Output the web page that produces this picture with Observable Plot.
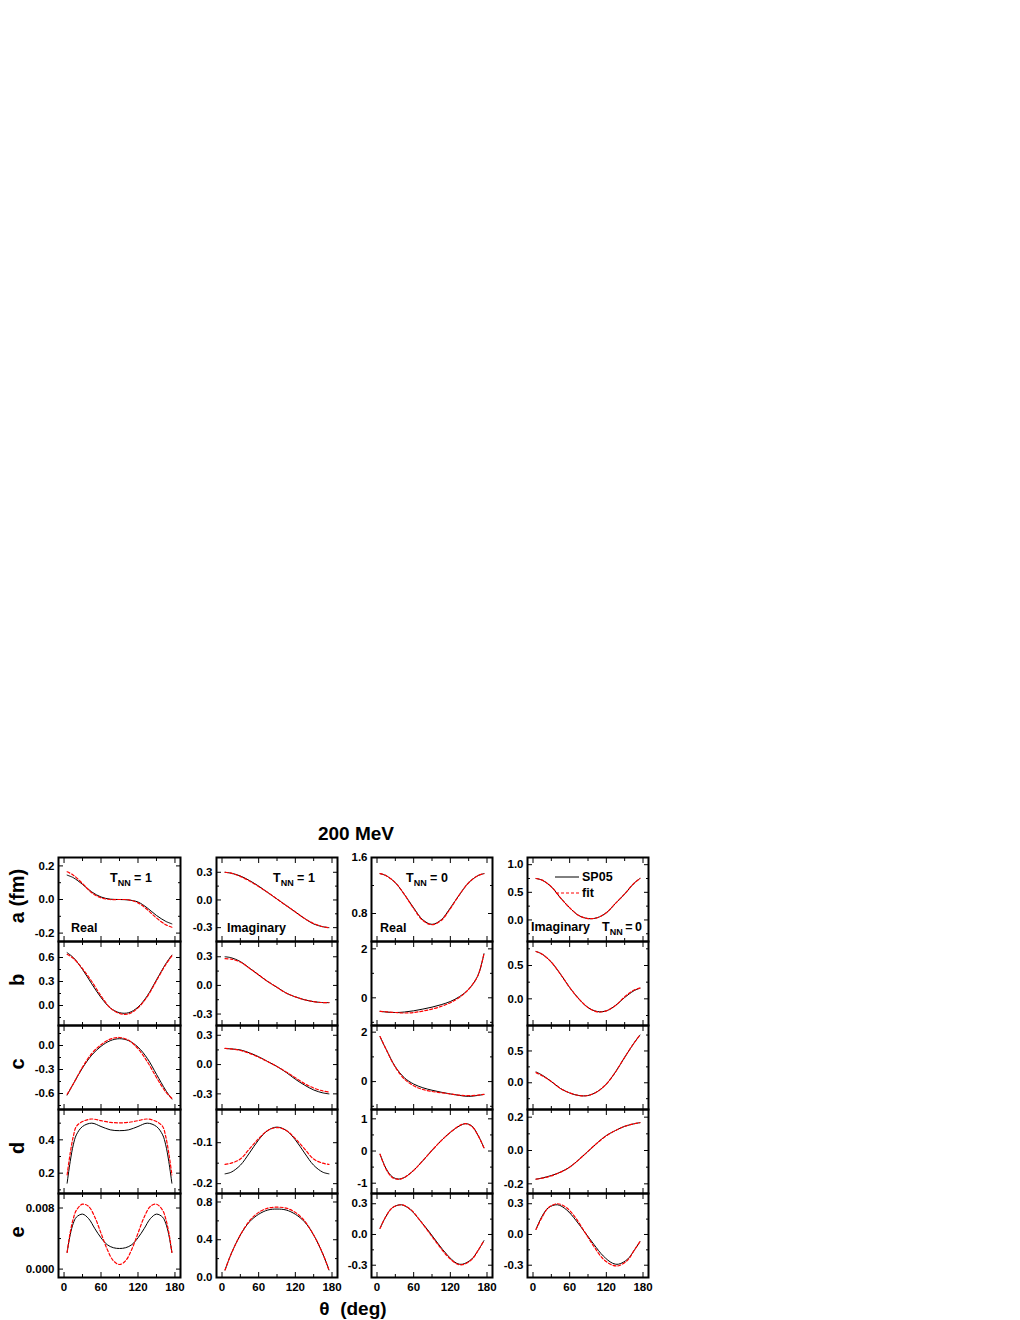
<!DOCTYPE html>
<html>
<head>
<meta charset="utf-8">
<script src="https://cdn.jsdelivr.net/npm/d3@7"></script>
<script src="https://cdn.jsdelivr.net/npm/@observablehq/plot@0.6"></script>
<style>
  body { margin: 0; background: #fff; }
  #chart { position: relative; width: 1020px; height: 1320px; background: #fff; overflow: hidden; }
  #chart .panel { position: absolute; }
  #overlay { position: absolute; left: 0; top: 0; pointer-events: none; }
  #overlay text { font-family: "Liberation Sans", Arial, Helvetica, sans-serif; font-weight: bold; fill: #000; white-space: pre; }
</style>
</head>
<body>
<div id="chart"></div>
<script>
// ---------------- data ----------------
const thetaStd = [5, 15, 30, 45, 60, 75, 90, 105, 120, 135, 150, 165, 175];
const thetaD1 = [5, 10, 15, 20, 30, 45, 60, 75, 90, 105, 120, 135, 150, 160, 165, 170, 175];
const thetaD3 = [5, 15, 25, 35, 45, 60, 75, 90, 105, 120, 135, 145, 155, 165, 175];
const thetaE1 = [5, 10, 15, 20, 30, 40, 50, 60, 70, 80, 90, 100, 110, 120, 130, 140, 150, 160, 165, 170, 175];
const thetaE3 = [5, 15, 25, 40, 55, 70, 85, 100, 115, 130, 140, 155, 165, 175];

// row a
const sp05A1 = [0.145, 0.13, 0.09, 0.045, 0.015, 0.002, 0.0, -0.003, -0.015, -0.05, -0.095, -0.13, -0.145];
const fitA1  = [0.165, 0.145, 0.095, 0.04, 0.01, 0.0, 0.0, -0.002, -0.02, -0.06, -0.11, -0.15, -0.165];
const sp05A2 = [0.30, 0.29, 0.26, 0.21, 0.15, 0.08, 0.01, -0.06, -0.13, -0.2, -0.26, -0.29, -0.30];
const fitA2  = [0.30, 0.29, 0.255, 0.205, 0.145, 0.08, 0.01, -0.06, -0.13, -0.2, -0.255, -0.29, -0.30];
const sp05A3 = [1.37, 1.34, 1.24, 1.07, 0.88, 0.71, 0.645, 0.71, 0.88, 1.07, 1.24, 1.34, 1.37];
const fitA3  = [1.37, 1.34, 1.24, 1.07, 0.87, 0.70, 0.64, 0.70, 0.87, 1.07, 1.24, 1.34, 1.37];
const sp05A4 = [0.75, 0.72, 0.60, 0.40, 0.22, 0.08, 0.025, 0.04, 0.13, 0.30, 0.47, 0.66, 0.75];
const fitA4  = [0.75, 0.72, 0.60, 0.40, 0.22, 0.08, 0.025, 0.04, 0.13, 0.30, 0.47, 0.66, 0.75];
// row b
const sp05B1 = [0.66, 0.6, 0.45, 0.27, 0.1, -0.03, -0.09, -0.09, -0.02, 0.12, 0.32, 0.52, 0.63];
const fitB1  = [0.64, 0.59, 0.46, 0.3, 0.12, -0.03, -0.1, -0.105, -0.03, 0.11, 0.31, 0.51, 0.62];
const sp05B2 = [0.3, 0.29, 0.25, 0.18, 0.11, 0.04, -0.02, -0.08, -0.12, -0.15, -0.17, -0.18, -0.18];
const fitB2  = [0.28, 0.275, 0.245, 0.18, 0.11, 0.04, -0.02, -0.08, -0.12, -0.15, -0.17, -0.18, -0.18];
const sp05B3 = [-0.55, -0.58, -0.6, -0.58, -0.53, -0.46, -0.38, -0.28, -0.15, 0.05, 0.35, 0.9, 1.8];
const fitB3  = [-0.55, -0.57, -0.6, -0.62, -0.6, -0.54, -0.46, -0.35, -0.2, 0.02, 0.35, 0.9, 1.8];
const sp05B4 = [0.71, 0.67, 0.55, 0.37, 0.17, 0.0, -0.13, -0.19, -0.18, -0.1, 0.02, 0.12, 0.16];
const fitB4  = [0.71, 0.67, 0.55, 0.37, 0.17, 0.0, -0.13, -0.195, -0.18, -0.1, 0.03, 0.13, 0.16];
// row c
const sp05C1 = [-0.62, -0.48, -0.28, -0.12, -0.01, 0.06, 0.085, 0.06, -0.02, -0.16, -0.36, -0.56, -0.67];
const fitC1  = [-0.61, -0.48, -0.27, -0.1, 0.01, 0.08, 0.1, 0.065, -0.04, -0.2, -0.4, -0.58, -0.66];
const sp05C2 = [0.165, 0.16, 0.15, 0.12, 0.08, 0.03, -0.02, -0.08, -0.15, -0.21, -0.26, -0.29, -0.3];
const fitC2  = [0.165, 0.16, 0.145, 0.115, 0.075, 0.03, -0.02, -0.075, -0.135, -0.195, -0.24, -0.27, -0.28];
const sp05C3 = [1.82, 1.3, 0.6, 0.15, -0.1, -0.25, -0.35, -0.43, -0.5, -0.56, -0.6, -0.56, -0.52];
const fitC3  = [1.82, 1.3, 0.58, 0.1, -0.17, -0.32, -0.4, -0.45, -0.5, -0.55, -0.57, -0.55, -0.52];
const sp05C4 = [0.17, 0.12, 0.02, -0.09, -0.16, -0.2, -0.2, -0.14, -0.02, 0.17, 0.4, 0.62, 0.75];
const fitC4  = [0.16, 0.11, 0.02, -0.09, -0.16, -0.2, -0.2, -0.14, -0.02, 0.17, 0.4, 0.62, 0.75];
// row d
const sp05D1 = [0.14, 0.27, 0.37, 0.43, 0.48, 0.5, 0.48, 0.46, 0.455, 0.46, 0.48, 0.5, 0.48, 0.43, 0.37, 0.27, 0.14];
const fitD1  = [0.19, 0.32, 0.42, 0.48, 0.51, 0.525, 0.515, 0.505, 0.502, 0.505, 0.515, 0.525, 0.51, 0.48, 0.42, 0.32, 0.19];
const sp05D2 = [-0.176, -0.172, -0.155, -0.125, -0.093, -0.07, -0.062, -0.07, -0.093, -0.125, -0.155, -0.172, -0.176];
const fitD2  = [-0.153, -0.15, -0.14, -0.115, -0.09, -0.07, -0.063, -0.07, -0.09, -0.115, -0.14, -0.15, -0.153];
const sp05D3 = [-0.1, -0.55, -0.8, -0.87, -0.82, -0.6, -0.3, 0.02, 0.32, 0.58, 0.78, 0.85, 0.78, 0.5, 0.1];
const fitD3  = [-0.1, -0.57, -0.82, -0.88, -0.82, -0.6, -0.3, 0.02, 0.32, 0.58, 0.79, 0.85, 0.77, 0.5, 0.1];
const sp05D4 = [-0.172, -0.165, -0.15, -0.13, -0.1, -0.055, -0.005, 0.045, 0.09, 0.12, 0.145, 0.16, 0.167];
const fitD4  = [-0.172, -0.166, -0.152, -0.13, -0.1, -0.055, -0.005, 0.045, 0.088, 0.12, 0.145, 0.16, 0.167];
// row e
const sp05E1 = [0.0022, 0.0045, 0.006, 0.0068, 0.0072, 0.0066, 0.0053, 0.0041, 0.0032, 0.0028, 0.0027, 0.0028, 0.0032, 0.0041, 0.0053, 0.0066, 0.0072, 0.0068, 0.006, 0.0045, 0.0022];
const fitE1  = [0.0022, 0.0048, 0.0066, 0.0077, 0.0085, 0.0082, 0.0068, 0.0047, 0.0026, 0.0011, 0.0006, 0.0011, 0.0026, 0.0047, 0.0068, 0.0082, 0.0085, 0.0077, 0.0066, 0.0048, 0.0022];
const sp05E2 = [0.08, 0.25, 0.45, 0.59, 0.67, 0.715, 0.725, 0.715, 0.67, 0.59, 0.45, 0.25, 0.08];
const fitE2  = [0.08, 0.25, 0.45, 0.6, 0.69, 0.735, 0.745, 0.735, 0.69, 0.6, 0.45, 0.25, 0.08];
const sp05E3 = [0.06, 0.18, 0.26, 0.29, 0.24, 0.14, 0.03, -0.09, -0.2, -0.28, -0.29, -0.24, -0.16, -0.06];
const fitE3  = [0.06, 0.18, 0.26, 0.29, 0.245, 0.14, 0.02, -0.1, -0.21, -0.285, -0.295, -0.245, -0.16, -0.06];
const sp05E4 = [0.05, 0.18, 0.26, 0.29, 0.24, 0.14, 0.02, -0.1, -0.21, -0.28, -0.29, -0.24, -0.16, -0.07];
const fitE4  = [0.05, 0.17, 0.26, 0.3, 0.26, 0.16, 0.02, -0.12, -0.24, -0.3, -0.305, -0.25, -0.16, -0.07];

// axis ticks
const xTicksMajor = [0, 60, 120, 180];
const xTicksMinor = [30, 90, 150];
const yDomains = [
  [[-0.25, 0.25], [-0.45, 0.46], [0.4, 1.6], [-0.39, 1.13]],
  [[-0.25, 0.8], [-0.42, 0.46], [-1.13, 2.3], [-0.4, 0.86]],
  [[-0.8, 0.25], [-0.46, 0.4], [-1.13, 2.27], [-0.42, 0.9]],
  [[0.078, 0.582], [-0.224, -0.019], [-1.32, 1.29], [-0.258, 0.246]],
  [[-0.0011, 0.0099], [0, 0.89], [-0.42, 0.4], [-0.42, 0.4]]
];
const yMajor = [
  [[-0.2, 0, 0.2], [-0.3, 0, 0.3], [0.8, 1.6], [0, 0.5, 1.0]],
  [[0, 0.3, 0.6], [-0.3, 0, 0.3], [0, 2], [0, 0.5]],
  [[-0.6, -0.3, 0], [-0.3, 0, 0.3], [0, 2], [0, 0.5]],
  [[0.2, 0.4], [-0.2, -0.1], [-1, 0, 1], [-0.2, 0, 0.2]],
  [[0, 0.008], [0, 0.4, 0.8], [-0.3, 0, 0.3], [-0.3, 0, 0.3]]
];
const yMinor = [
  [[-0.1, 0.1], [-0.15, 0.15], [1.2], [-0.25, 0.25, 0.75]],
  [[-0.15, 0.15, 0.45], [-0.15, 0.15], [-1, 1], [-0.25, 0.25, 0.75]],
  [[-0.75, -0.45, -0.15, 0.15], [-0.15, 0.15], [-1, 1], [-0.25, 0.25, 0.75]],
  [[0.1, 0.3, 0.5], [-0.15, -0.05], [-0.5, 0.5], [-0.1, 0.1]],
  [[0.004], [0.2, 0.6], [-0.15, 0.15], [-0.15, 0.15]]
];
const yFormats = [
  [".1f", ".1f", ".1f", ".1f"],
  [".1f", ".1f", "d", ".1f"],
  [".1f", ".1f", "d", ".1f"],
  [".1f", ".1f", "d", ".1f"],
  [".3f", ".1f", ".1f", ".1f"]
];
const panelData = [
  [[thetaStd, sp05A1, fitA1], [thetaStd, sp05A2, fitA2], [thetaStd, sp05A3, fitA3], [thetaStd, sp05A4, fitA4]],
  [[thetaStd, sp05B1, fitB1], [thetaStd, sp05B2, fitB2], [thetaStd, sp05B3, fitB3], [thetaStd, sp05B4, fitB4]],
  [[thetaStd, sp05C1, fitC1], [thetaStd, sp05C2, fitC2], [thetaStd, sp05C3, fitC3], [thetaStd, sp05C4, fitC4]],
  [[thetaD1, sp05D1, fitD1], [thetaStd, sp05D2, fitD2], [thetaD3, sp05D3, fitD3], [thetaStd, sp05D4, fitD4]],
  [[thetaE1, sp05E1, fitE1], [thetaStd, sp05E2, fitE2], [thetaE3, sp05E3, fitE3], [thetaE3, sp05E4, fitE4]]
];
const rowLabels = ["a (fm)", "b", "c", "d", "e"];
const titleText = "200 MeV";
const xLabelText = "θ  (deg)";
const legendNames = ["SP05", "fit"];

// ---------------- layout ----------------
const FONT = '"Liberation Sans", Arial, Helvetica, sans-serif';
const xDomain = [-9, 189];
const colLeft = [58, 216, 371, 527];
const colWidth = [122, 121, 121, 121];
const rowTop = [857, 941, 1025, 1109, 1193];
const rowH = 84;
const ML = 46;

const chart = document.getElementById("chart");
const blank = () => "";
const fmtFn = f => { const g = d3.format(f); return d => g(d).replace("−", "-"); };

for (let r = 0; r < 5; r++) {
  for (let c = 0; c < 4; c++) {
    const [th, sp, ft] = panelData[r][c];
    const rowsSP = th.map((t, i) => ({t, v: sp[i]}));
    const rowsFit = th.map((t, i) => ({t, v: ft[i]}));
    const bottom = r === 4;
    const MB = bottom ? 24 : 0;
    const marks = [
      Plot.axisY({ticks: yMajor[r][c], anchor: "left", tickSize: 0, tickPadding: 4, tickFormat: fmtFn(yFormats[r][c]), label: null}),
      Plot.axisY({ticks: yMajor[r][c], anchor: "left", tickSize: -5, tickFormat: blank, label: null}),
      Plot.axisY({ticks: yMinor[r][c], anchor: "left", tickSize: -3, tickFormat: blank, label: null}),
      Plot.axisY({ticks: yMajor[r][c], anchor: "right", tickSize: -5, tickFormat: blank, label: null}),
      Plot.axisY({ticks: yMinor[r][c], anchor: "right", tickSize: -3, tickFormat: blank, label: null}),
      Plot.axisX({ticks: xTicksMajor, anchor: "top", tickSize: -5, tickFormat: blank, label: null}),
      Plot.axisX({ticks: xTicksMinor, anchor: "top", tickSize: -3, tickFormat: blank, label: null}),
      Plot.axisX({ticks: xTicksMajor, anchor: "bottom", tickSize: -5, tickFormat: blank, label: null}),
      Plot.axisX({ticks: xTicksMinor, anchor: "bottom", tickSize: -3, tickFormat: blank, label: null}),
      Plot.line(rowsSP, {x: "t", y: "v", stroke: "#000", strokeWidth: 1, curve: "catmull-rom"}),
      Plot.line(rowsFit, {x: "t", y: "v", stroke: "#ff0000", strokeWidth: 1.2, strokeDasharray: "3,2", curve: "catmull-rom"}),
      Plot.frame({stroke: "#000", strokeWidth: 2})
    ];
    if (bottom) {
      marks.push(Plot.axisX({ticks: xTicksMajor, anchor: "bottom", tickSize: 0, tickPadding: 5, tickFormat: d => String(d), label: null}));
    }
    const svg = Plot.plot({
      width: ML + colWidth[c],
      height: rowH + MB,
      marginLeft: ML, marginRight: 0, marginTop: 0, marginBottom: MB,
      x: {domain: xDomain},
      y: {domain: yDomains[r][c]},
      style: {background: "none", overflow: "visible", fontSize: "11.5px", fontWeight: "bold", fontFamily: FONT, color: "#000"},
      marks
    });
    svg.classList.add("panel");
    svg.style.left = (colLeft[c] - ML) + "px";
    svg.style.top = rowTop[r] + "px";
    chart.appendChild(svg);
  }
}

// ---------------- text overlay ----------------
const NS = "http://www.w3.org/2000/svg";
const ov = document.createElementNS(NS, "svg");
ov.setAttribute("id", "overlay");
ov.setAttribute("width", 1020);
ov.setAttribute("height", 1320);
chart.appendChild(ov);
function txt(x, y, s, size, anchor = "start", rot = 0) {
  const t = document.createElementNS(NS, "text");
  t.setAttribute("x", x); t.setAttribute("y", y);
  t.setAttribute("font-size", size);
  t.setAttribute("text-anchor", anchor);
  if (rot) t.setAttribute("transform", `rotate(${rot} ${x} ${y})`);
  t.textContent = s;
  ov.appendChild(t);
  return t;
}
function tnn(x, y, val, size = 12.5, sep = " = ") {
  const t = document.createElementNS(NS, "text");
  t.setAttribute("x", x); t.setAttribute("y", y); t.setAttribute("font-size", size);
  const a = document.createElementNS(NS, "tspan"); a.textContent = "T";
  const b = document.createElementNS(NS, "tspan"); b.textContent = "NN"; b.setAttribute("font-size", size * 0.72); b.setAttribute("dy", 4);
  const d = document.createElementNS(NS, "tspan"); d.textContent = sep + val; d.setAttribute("dy", -4);
  t.append(a, b, d);
  ov.appendChild(t);
}
txt(356, 840, titleText, 19, "middle");
txt(353, 1315, xLabelText, 19, "middle");
const rowCenters = rowTop.map(t => t + rowH / 2);
rowLabels.forEach((s, i) => txt(24, rowCenters[i] - 3, s, 20, "middle", -90));

tnn(110, 882, "1");
txt(71, 932, "Real", 12.5);
tnn(273, 882, "1");
txt(227, 932, "Imaginary", 12.5);
tnn(406, 882, "0");
txt(380, 932, "Real", 12.5);
txt(531, 931, "Imaginary", 12.5);
tnn(602, 931, "0", 12.5, "\u2009=\u2009");

// legend
const l1 = document.createElementNS(NS, "line");
l1.setAttribute("x1", 555); l1.setAttribute("x2", 579); l1.setAttribute("y1", 877); l1.setAttribute("y2", 877);
l1.setAttribute("stroke", "#000"); l1.setAttribute("stroke-width", 1);
const l2 = document.createElementNS(NS, "line");
l2.setAttribute("x1", 556); l2.setAttribute("x2", 579); l2.setAttribute("y1", 893); l2.setAttribute("y2", 893);
l2.setAttribute("stroke", "#ff0000"); l2.setAttribute("stroke-width", 1.2); l2.setAttribute("stroke-dasharray", "3,2");
ov.append(l1, l2);
txt(582, 881, legendNames[0], 12.5);
txt(582, 897, legendNames[1], 12.5);
</script>
</body>
</html>
